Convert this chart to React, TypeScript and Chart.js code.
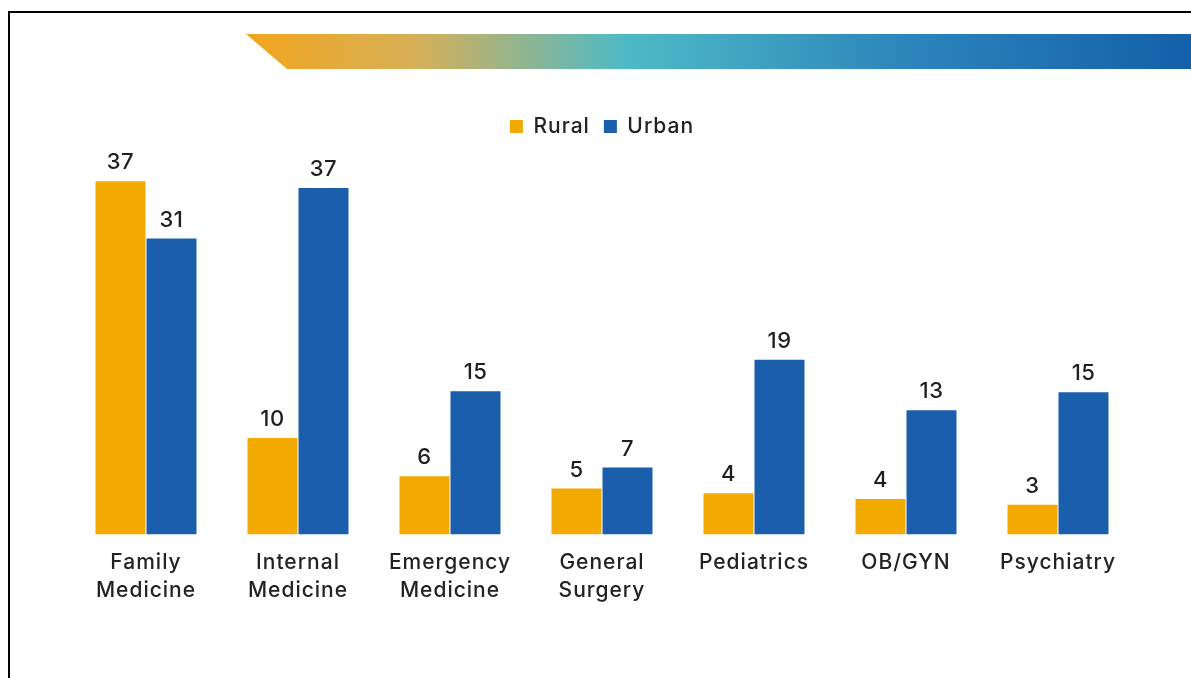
import React, { useEffect, useRef } from "react";
import { Chart, registerables } from "chart.js";

Chart.register(...registerables);

const categories: string[][] = [
  ["Family", "Medicine"],
  ["Internal", "Medicine"],
  ["Emergency", "Medicine"],
  ["General", "Surgery"],
  ["Pediatrics"],
  ["OB/GYN"],
  ["Psychiatry"],
];
const seriesNames = ["Rural", "Urban"];
const ruralValues = [37, 10.1, 6.1, 4.8, 4.3, 3.7, 3.1];
const urbanValues = [31, 36.3, 15, 7, 18.3, 13, 14.9];
const ruralLabels = ["37", "10", "6", "5", "4", "4", "3"];
const urbanLabels = ["31", "37", "15", "7", "19", "13", "15"];

const ORANGE = "#F2A900";
const BLUE = "#1A5EAC";
const FONT = "Inter";

const spacingPlugin = {
  id: "spacing",
  beforeUpdate(chart: any) {
    chart.ctx.letterSpacing = "1px";
  },
  beforeDraw(chart: any) {
    chart.ctx.letterSpacing = "1px";
  },
};

const decorPlugin = {
  id: "decor",
  beforeDraw(chart: any) {
    const ctx = chart.ctx;
    ctx.save();
    ctx.fillStyle = "#ffffff";
    ctx.fillRect(0, 0, chart.width, chart.height);
    // frame
    ctx.fillStyle = "#000000";
    ctx.fillRect(8, 11, 2, chart.height - 11);
    ctx.fillRect(8, 11, chart.width - 8, 2);
    // banner
    const g = ctx.createLinearGradient(246, 0, 1191, 0);
    g.addColorStop(0, "#F2A51C");
    g.addColorStop(0.18, "#D6AF58");
    g.addColorStop(0.4, "#4FBAC6");
    g.addColorStop(0.7, "#2C85BB");
    g.addColorStop(1, "#1460AA");
    ctx.fillStyle = g;
    ctx.beginPath();
    ctx.moveTo(246, 34);
    ctx.lineTo(1191, 34);
    ctx.lineTo(1191, 69);
    ctx.lineTo(287, 69);
    ctx.closePath();
    ctx.fill();
    ctx.restore();
  },
};

const labelsPlugin = {
  id: "valueLabels",
  afterDatasetsDraw(chart: any) {
    const ctx = chart.ctx;
    const all = [ruralLabels, urbanLabels];
    ctx.save();
    ctx.letterSpacing = "0.5px";
    ctx.font = `500 22px ${FONT}`;
    ctx.fillStyle = "#1f1f1f";
    ctx.textAlign = "center";
    ctx.textBaseline = "alphabetic";
    chart.data.datasets.forEach((_: any, di: number) => {
      const meta = chart.getDatasetMeta(di);
      meta.data.forEach((bar: any, i: number) => {
        ctx.fillText(all[di][i], bar.x, bar.y - 12);
      });
    });
    ctx.restore();
  },
};

export default function App() {
  const ref = useRef<HTMLCanvasElement | null>(null);
  useEffect(() => {
    document.body.style.margin = "0";
    const canvas = ref.current!;
    const chart = new Chart(canvas, {
      type: "bar",
      data: {
        labels: categories as any,
        datasets: [
          {
            label: seriesNames[0],
            data: ruralValues,
            backgroundColor: ORANGE,
            categoryPercentage: 0.671,
            barPercentage: 0.98,
          },
          {
            label: seriesNames[1],
            data: urbanValues,
            backgroundColor: BLUE,
            categoryPercentage: 0.671,
            barPercentage: 0.98,
          },
        ],
      },
      options: {
        responsive: false,
        animation: false,
        layout: { padding: { top: 102, left: 70, right: 57, bottom: 59 } },
        plugins: {
          legend: {
            position: "top",
            labels: {
              boxWidth: 13,
              boxHeight: 13,
              padding: 14,
              color: "#222",
              font: { family: FONT, size: 21, weight: "500" },
            },
          },
          tooltip: { enabled: false },
        },
        scales: {
          x: {
            grid: { display: false, drawTicks: false },
            border: { display: false },
            ticks: {
              color: "#222",
              padding: 15,
              maxRotation: 0,
              autoSkip: false,
              font: { family: FONT, size: 21, weight: "500", lineHeight: 1.3 },
            },
          },
          y: {
            display: false,
            min: 0,
            max: 40.6,
          },
        },
      },
      plugins: [spacingPlugin, decorPlugin, labelsPlugin],
    });
    return () => chart.destroy();
  }, []);
  return (
    <div style={{ position: "fixed", left: 0, top: 0, width: 1191, height: 678 }}>
      <canvas ref={ref} width={1191} height={678} style={{ display: "block" }} />
    </div>
  );
}
